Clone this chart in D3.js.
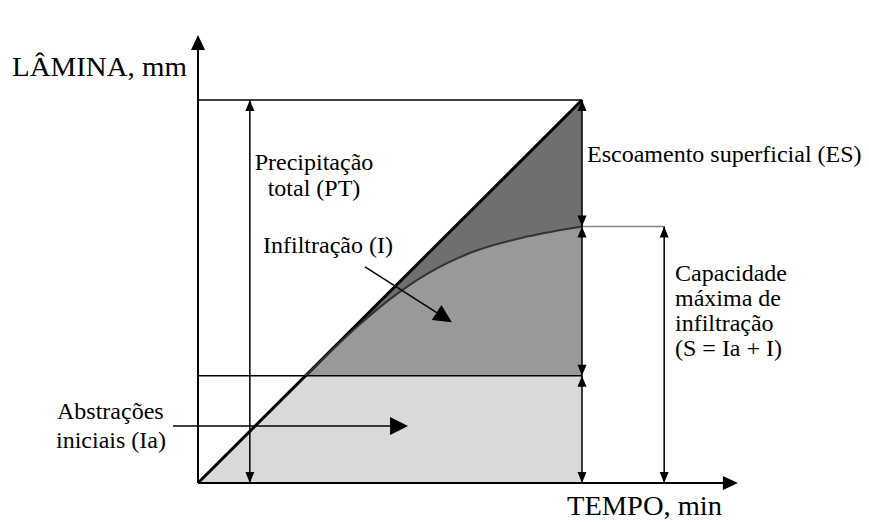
<html>
<head>
<meta charset="utf-8">
<script src="https://d3js.org/d3.v7.min.js"></script>
<style>
  body { margin: 0; background: #fff; }
  text { font-family: "Liberation Serif", "Times New Roman", serif; fill: #000; }
</style>
</head>
<body>
<svg width="869" height="522"></svg>
<script>
// ---------------- data (time / depth in relative units, 0..100) ----------------
const tEnd = 100;        // end of the storm
const totalPT = 100;     // precipitação total
const levelIa = 28;      // abstrações iniciais
const levelS = 67;       // capacidade máxima (S = Ia + I)
const sArrowT = 121.4;   // where the S dimension arrow stands
const axisMaxT = 140.6;  // x axis arrow tip
const axisMaxY = 117;    // y axis arrow tip

// infiltration curve
const curveT = [28, 35, 42, 50, 60, 72, 86, 100];
const curveY = [28, 34.8, 41.3, 48, 54.8, 60.5, 64.4, 67];

// vertical dimension arrows: [t, from, to]
const dimArrows = [
  [13.5, 0, totalPT],
  [tEnd, levelS, totalPT],
  [tEnd, levelIa, levelS],
  [tEnd, 0, levelIa],
  [sArrowT, 0, levelS]
];

// pointer arrows: [t0, y0, t1, y1]
const pointers = [
  [-6.5, 14.9, 54.7, 14.9],   // Abstrações iniciais
  [43.5, 56.4, 66.1, 42.0]    // Infiltração
];

// ---------------- setup ----------------
const svg = d3.select("svg");
const x = d3.scaleLinear().domain([0, 100]).range([198, 582]);
const y = d3.scaleLinear().domain([0, 100]).range([483, 100]);

const curvePts = curveT.map((t, i) => ({ t: t, v: curveY[i] }));

// arrow head as filled triangle, tip at (px, py), pointing along (dx, dy)
function head(g, px, py, dx, dy, len, half) {
  const n = Math.sqrt(dx * dx + dy * dy);
  const ux = dx / n, uy = dy / n;
  const bx = px - ux * len, by = py - uy * len;
  const pts = [[px, py], [bx - uy * half, by + ux * half], [bx + uy * half, by - ux * half]];
  g.append("path")
    .attr("d", "M" + pts.map(p => p.join(",")).join("L") + "Z")
    .attr("fill", "#000");
}

// ---------------- shaded regions ----------------
// abstrações iniciais (light)
const lightPts = [[0, 0], [levelIa, levelIa], [tEnd, levelIa], [tEnd, 0]];
svg.append("path")
  .attr("d", d3.line().x(d => x(d[0])).y(d => y(d[1]))(lightPts) + "Z")
  .attr("fill", "#d9d9d9");

// infiltração (medium)
svg.append("path")
  .datum(curvePts)
  .attr("d", d3.area().curve(d3.curveMonotoneX)
    .x(d => x(d.t)).y0(y(levelIa)).y1(d => y(d.v)))
  .attr("fill", "#999999");

// escoamento superficial (dark): between diagonal and curve
svg.append("path")
  .datum(curvePts)
  .attr("d", d3.area().curve(d3.curveMonotoneX)
    .x(d => x(d.t)).y0(d => y(d.v)).y1(d => y(d.t * totalPT / tEnd)))
  .attr("fill", "#6f6f6f");

// ---------------- lines ----------------
const lines = svg.append("g").attr("stroke", "#000").attr("fill", "none");

// top of precipitation
lines.append("line")
  .attr("x1", x(0)).attr("x2", x(tEnd)).attr("y1", y(totalPT)).attr("y2", y(totalPT))
  .attr("stroke-width", 1.5);
// Ia level
lines.append("line")
  .attr("x1", x(0)).attr("x2", x(tEnd)).attr("y1", y(levelIa)).attr("y2", y(levelIa))
  .attr("stroke-width", 1.5);
// S level (thin grey)
svg.append("line")
  .attr("x1", x(tEnd)).attr("x2", x(sArrowT)).attr("y1", y(levelS)).attr("y2", y(levelS))
  .attr("stroke", "#888").attr("stroke-width", 1.5);

// infiltration curve
svg.append("path")
  .datum(curvePts)
  .attr("d", d3.line().curve(d3.curveMonotoneX).x(d => x(d.t)).y(d => y(d.v)))
  .attr("fill", "none").attr("stroke", "#333").attr("stroke-width", 2);

// cumulative precipitation (diagonal)
lines.append("line")
  .attr("x1", x(0)).attr("y1", y(0)).attr("x2", x(tEnd)).attr("y2", y(totalPT))
  .attr("stroke-width", 3);

// ---------------- axes ----------------
const axes = svg.append("g");
axes.append("line")
  .attr("x1", x(0)).attr("y1", y(0)).attr("x2", x(0)).attr("y2", y(axisMaxY) + 12)
  .attr("stroke", "#000").attr("stroke-width", 2);
head(axes, x(0), y(axisMaxY), 0, -1, 15, 7);
axes.append("line")
  .attr("x1", x(0)).attr("y1", y(0)).attr("x2", x(axisMaxT) - 12).attr("y2", y(0))
  .attr("stroke", "#000").attr("stroke-width", 2);
head(axes, x(axisMaxT), y(0), 1, 0, 15, 7);

// ---------------- dimension arrows ----------------
const dims = svg.append("g");
dimArrows.forEach(function (d) {
  const px = x(d[0]), yLo = y(d[1]), yHi = y(d[2]);
  dims.append("line")
    .attr("x1", px).attr("x2", px).attr("y1", yLo).attr("y2", yHi)
    .attr("stroke", "#000").attr("stroke-width", 1.5);
  head(dims, px, yHi, 0, -1, 11, 4.5);
  head(dims, px, yLo, 0, 1, 11, 4.5);
});

// ---------------- pointer arrows ----------------
pointers.forEach(function (d) {
  const x0 = x(d[0]), y0 = y(d[1]), x1 = x(d[2]), y1 = y(d[3]);
  const len = 18, n = Math.hypot(x1 - x0, y1 - y0);
  svg.append("line")
    .attr("x1", x0).attr("y1", y0)
    .attr("x2", x1 - (x1 - x0) / n * (len - 2)).attr("y2", y1 - (y1 - y0) / n * (len - 2))
    .attr("stroke", "#000").attr("stroke-width", 1.5);
  head(svg, x1, y1, x1 - x0, y1 - y0, len, 9);
});

// ---------------- text ----------------
function label(str, px, py, size, anchor, width) {
  const t = svg.append("text")
    .attr("x", px).attr("y", py)
    .attr("font-size", size)
    .attr("text-anchor", anchor || "start")
    .text(str);
  if (width) t.attr("textLength", width).attr("lengthAdjust", "spacingAndGlyphs");
  return t;
}

label("LÂMINA, mm", 12, 76, 27, "start", 175);
label("TEMPO, min", 567, 515, 27, "start", 155);

label("Precipitação", 314, 170, 24, "middle");
label("total (PT)", 314, 196, 24, "middle");
label("Infiltração (I)", 263, 253, 24);
label("Escoamento superficial (ES)", 587, 162, 24);

["Capacidade", "máxima de", "infiltração", "(S = Ia + I)"].forEach(function (s, i) {
  label(s, 675, 281 + i * 25, 24);
});

label("Abstrações", 57, 419, 24);
label("iniciais (Ia)", 56, 448, 24);
</script>
</body>
</html>
